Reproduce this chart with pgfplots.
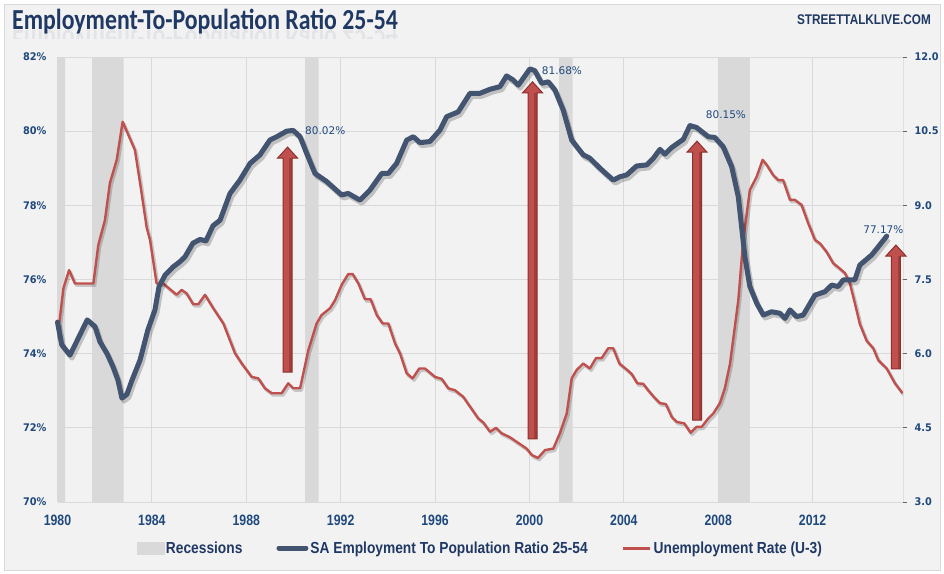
\documentclass[border=0pt]{standalone}
\usepackage{fontspec}
\usepackage{pgfplots}
\usepackage{pgfplotstable}
\pgfplotsset{compat=1.18}
\setmainfont{Liberation Sans}
\newfontfamily\titlefont[FakeStretch=0.82]{Carlito}
\newfontfamily\narrowfont[FakeStretch=0.86]{Liberation Sans}
\newfontfamily\xfont[FakeStretch=0.82]{Liberation Sans}
\newfontfamily\logofont[FakeStretch=0.84]{Liberation Sans}
\newfontfamily\tickfont[FakeStretch=0.93]{DejaVu Sans}
\newfontfamily\annofont{DejaVu Sans}
\definecolor{bg}{HTML}{F2F2F2}
\definecolor{gridc}{HTML}{D9D9D9}
\definecolor{recgray}{HTML}{D9D9D9}
\definecolor{empblue}{HTML}{435470}
\definecolor{unred}{HTML}{C0504D}
\definecolor{arrowdark}{HTML}{8C2F2D}
\definecolor{tickblue}{HTML}{1F497D}
\definecolor{navy}{HTML}{1F3864}

\pgfplotstableread{
x y
1980.00 12
1980.32 3
1981.47 12
1982.80 3
1990.49 12
1991.07 3
2001.26 12
2001.83 3
2008.00 12
2009.34 3
2015.83 3
}\recessions

\pgfplotstableread{
x y
1980.00 74.85
1980.18 74.24
1980.53 73.96
1981.26 74.91
1981.59 74.73
1981.80 74.32
1982.10 74.00
1982.35 73.65
1982.56 73.29
1982.73 72.80
1982.94 72.90
1983.16 73.29
1983.50 73.83
1983.83 74.64
1984.13 75.18
1984.30 75.80
1984.56 76.12
1984.90 76.34
1985.19 76.48
1985.40 76.61
1985.74 76.98
1986.04 77.08
1986.29 77.04
1986.59 77.45
1986.89 77.60
1987.31 78.32
1987.73 78.68
1988.16 79.13
1988.58 79.36
1989.00 79.76
1989.29 79.85
1989.71 80.00
1989.99 80.02
1990.28 79.85
1990.56 79.40
1990.91 78.86
1991.41 78.64
1992.04 78.28
1992.32 78.32
1992.82 78.14
1993.24 78.41
1993.74 78.86
1994.02 78.86
1994.37 79.13
1994.80 79.76
1995.08 79.85
1995.36 79.69
1995.78 79.72
1996.21 80.03
1996.49 80.39
1996.98 80.52
1997.48 81.02
1997.90 81.02
1998.33 81.13
1998.75 81.20
1999.03 81.49
1999.31 81.38
1999.53 81.24
2000.02 81.68
2000.23 81.63
2000.52 81.29
2000.80 81.33
2001.08 81.11
2001.43 80.57
2001.79 79.76
2002.28 79.36
2002.56 79.27
2002.99 79.00
2003.55 78.68
2003.83 78.77
2004.12 78.82
2004.54 79.06
2004.97 79.09
2005.25 79.27
2005.53 79.51
2005.74 79.38
2006.03 79.56
2006.52 79.78
2006.80 80.15
2007.08 80.10
2007.58 79.85
2007.86 79.83
2008.21 79.58
2008.57 79.04
2008.85 78.23
2008.99 77.42
2009.13 76.61
2009.34 75.81
2009.63 75.36
2009.91 75.04
2010.26 75.13
2010.61 75.09
2010.83 74.95
2011.04 75.18
2011.32 75.00
2011.60 75.04
2012.10 75.58
2012.52 75.67
2012.81 75.85
2013.08 75.81
2013.30 75.99
2013.79 75.99
2014.00 76.39
2014.50 76.66
2014.78 76.88
2015.14 77.17
}\emp

\pgfplotstableread{
x y
1980.00 6.31
1980.25 7.32
1980.49 7.69
1980.74 7.42
1981.52 7.42
1981.73 8.20
1982.01 8.70
1982.22 9.45
1982.51 9.92
1982.76 10.69
1983.28 10.12
1983.50 9.45
1983.78 8.55
1983.92 8.30
1984.20 7.42
1984.48 7.42
1985.05 7.19
1985.26 7.29
1985.47 7.22
1985.75 7.00
1985.97 7.00
1986.25 7.19
1986.60 6.92
1987.03 6.61
1987.52 6.01
1987.81 5.80
1988.23 5.53
1988.51 5.50
1988.79 5.30
1989.08 5.20
1989.50 5.20
1989.78 5.40
1989.99 5.30
1990.28 5.30
1990.63 6.07
1990.98 6.61
1991.19 6.78
1991.55 6.92
1991.76 7.08
1992.04 7.39
1992.32 7.61
1992.51 7.61
1992.75 7.42
1993.03 7.10
1993.27 7.10
1993.53 6.78
1993.78 6.61
1994.02 6.61
1994.30 6.21
1994.51 6.01
1994.80 5.60
1995.05 5.50
1995.33 5.70
1995.57 5.70
1996.00 5.53
1996.28 5.49
1996.56 5.30
1996.84 5.26
1997.19 5.13
1997.48 4.93
1997.83 4.69
1998.04 4.61
1998.33 4.42
1998.58 4.50
1998.82 4.39
1999.17 4.31
1999.88 4.08
2000.10 3.95
2000.36 3.89
2000.66 4.05
2001.01 4.08
2001.29 4.39
2001.58 4.79
2001.79 5.50
2002.00 5.67
2002.28 5.80
2002.56 5.70
2002.82 5.91
2003.06 5.91
2003.34 6.11
2003.55 6.11
2003.81 5.80
2004.12 5.68
2004.33 5.59
2004.57 5.40
2004.82 5.39
2005.03 5.26
2005.32 5.10
2005.53 5.00
2005.78 4.98
2006.03 4.72
2006.24 4.62
2006.56 4.59
2006.83 4.40
2007.08 4.52
2007.30 4.52
2007.58 4.69
2007.79 4.79
2008.07 5.00
2008.28 5.30
2008.50 5.80
2008.64 6.31
2008.85 7.08
2009.06 8.30
2009.34 9.31
2009.63 9.58
2009.88 9.92
2010.05 9.82
2010.33 9.61
2010.54 9.51
2010.75 9.51
2011.04 9.11
2011.25 9.11
2011.53 9.01
2011.81 8.64
2012.10 8.30
2012.31 8.23
2012.59 8.06
2012.87 7.83
2013.08 7.75
2013.37 7.63
2013.58 7.42
2013.79 7.02
2014.00 6.60
2014.29 6.26
2014.57 6.11
2014.78 5.87
2015.14 5.70
2015.49 5.40
2015.81 5.20
}\unrate

\newcommand{\bigarrow}[3]{%
  \filldraw[fill=unred, draw=arrowdark, line width=1pt, line join=miter]
    ([xshift=-4.5pt]axis cs:#1,#2) -- ([xshift=-4.5pt,yshift=-11pt]axis cs:#1,#3)
    -- ([xshift=-10pt,yshift=-11pt]axis cs:#1,#3) -- (axis cs:#1,#3)
    -- ([xshift=10pt,yshift=-11pt]axis cs:#1,#3) -- ([xshift=4.5pt,yshift=-11pt]axis cs:#1,#3)
    -- ([xshift=4.5pt]axis cs:#1,#2) -- cycle;
  \fill[arrowdark, opacity=0.55] ([xshift=1.8pt]axis cs:#1,#2) rectangle ([xshift=4.5pt,yshift=-11pt]axis cs:#1,#3);
}

\begin{document}
\begin{tikzpicture}
\useasboundingbox (0,0) rectangle (944pt,573pt);
\fill[white] (0,0) rectangle (944pt,573pt);
\filldraw[fill=bg, draw=gridc, line width=1pt] (4pt,3pt) rectangle (940.5pt,568pt);

% title with faint reflection
\begin{scope}
\clip (5pt,534pt) rectangle (500pt,542pt);
\node[anchor=base west, inner sep=0, yscale=-1, opacity=0.07, font=\titlefont\bfseries\fontsize{29}{31}\selectfont, text=navy] at (12pt,542pt) {Employment-To-Population Ratio 25-54};
\end{scope}
\node[anchor=base west, inner sep=0, font=\titlefont\bfseries\fontsize{29}{31}\selectfont, text=navy] at (12pt,543pt) {Employment-To-Population Ratio 25-54};
\node[anchor=base east, inner sep=0, font=\logofont\bfseries\fontsize{14}{16}\selectfont, text=navy] at (931pt,548pt) {STREETTALKLIVE.COM};

% right axis: unemployment rate
\begin{axis}[
  at={(57.5pt,71pt)}, anchor=south west, scale only axis,
  width=845.5pt, height=445pt,
  xmin=1980, xmax=2015.83, ymin=3, ymax=12,
  axis line style={draw=none},
  xtick={1980,1984,1988,1992,1996,2000,2004,2008,2012},
  ytick={3,4.5,6,7.5,9,10.5,12},
  xtick pos=bottom, ytick pos=right,
  tick align=outside, major tick length=4pt,
  xtick style={draw=none}, ytick style={draw=gray!80!black, line width=0.8pt},
  grid=major, major grid style={draw=gridc, line width=1pt},
  /pgf/number format/assume math mode=true,
  /pgf/number format/1000 sep={},
  xticklabel style={font=\xfont\bfseries\fontsize{15}{17}\selectfont, text=tickblue, yshift=-5pt},
  yticklabel style={font=\tickfont\bfseries\fontsize{10.5}{12}\selectfont, text=tickblue,
    /pgf/number format/fixed, /pgf/number format/fixed zerofill, /pgf/number format/precision=1, xshift=4pt},
]
\addplot[fill=recgray, draw=none, const plot mark left] table[x=x,y=y] {\recessions} \closedcycle;
\addplot[black, opacity=0.18, line width=3pt, line join=round, xshift=1.5pt, yshift=-2pt] table[x=x,y=y] {\unrate};
\addplot[unred, line width=2.4pt, line join=round] table[x=x,y=y] {\unrate};
\draw[gray!80!black, line width=0.8pt] (rel axis cs:1,0) -- (rel axis cs:1,1);
\end{axis}

% left axis: employment ratio
\begin{axis}[
  at={(57.5pt,71pt)}, anchor=south west, scale only axis,
  width=845.5pt, height=445pt,
  xmin=1980, xmax=2015.83, ymin=70, ymax=82,
  axis x line=none, axis y line*=left,
  y axis line style={draw=none},
  ytick={70,72,74,76,78,80,82}, ytick style={draw=none},
  /pgf/number format/assume math mode=true,
  yticklabel={\pgfmathprintnumber{\tick}\%},
  yticklabel style={font=\tickfont\bfseries\fontsize{10.5}{12}\selectfont, text=tickblue, xshift=-7.5pt},
  clip=false,
  legend columns=3,
  legend cell align=left,
  legend style={at={(0.5,-0.1034)}, anchor=center, draw=none, fill=none,
    font=\narrowfont\bfseries\fontsize{16}{18}\selectfont, text=navy,
    nodes={inner xsep=2pt, inner ysep=1pt},
    /tikz/every even column/.append style={column sep=32pt}},
]
\addlegendimage{legend image code/.code={\fill[recgray] (0pt,-6pt) rectangle (27pt,6pt);}}
\addlegendentry{Recessions}
\addplot[forget plot, black, opacity=0.2, line width=5pt, line join=round, xshift=2pt, yshift=-3pt] table[x=x,y=y] {\emp};
\addplot[empblue, line width=5pt, line join=round, line cap=round,
  legend image code/.code={\draw[empblue, line width=5pt, line cap=round] (1pt,0pt) -- (28pt,0pt);}] table[x=x,y=y] {\emp};
\addlegendentry{SA Employment To Population Ratio 25-54}
\addlegendimage{legend image code/.code={\draw[unred, line width=3pt] (0pt,0pt) -- (27pt,0pt);}}
\addlegendentry{Unemployment Rate (U-3)}

\bigarrow{1989.75}{73.50}{79.57}
\bigarrow{2000.13}{71.70}{81.33}
\bigarrow{2007.10}{72.21}{79.73}
\bigarrow{2015.53}{73.59}{76.93}

\node[anchor=west, inner sep=0, font=\annofont\fontsize{10.5}{12}\selectfont, text=tickblue] at (axis cs:1990.49,80.0) {80.02\%};
\node[anchor=west, inner sep=0, font=\annofont\fontsize{10.5}{12}\selectfont, text=tickblue] at (axis cs:2000.52,81.63) {81.68\%};
\node[anchor=west, inner sep=0, font=\annofont\fontsize{10.5}{12}\selectfont, text=tickblue] at (axis cs:2007.47,80.44) {80.15\%};
\node[anchor=west, inner sep=0, font=\annofont\fontsize{10.5}{12}\selectfont, text=tickblue] at (axis cs:2014.14,77.35) {77.17\%};
\end{axis}
\end{tikzpicture}
\end{document}
